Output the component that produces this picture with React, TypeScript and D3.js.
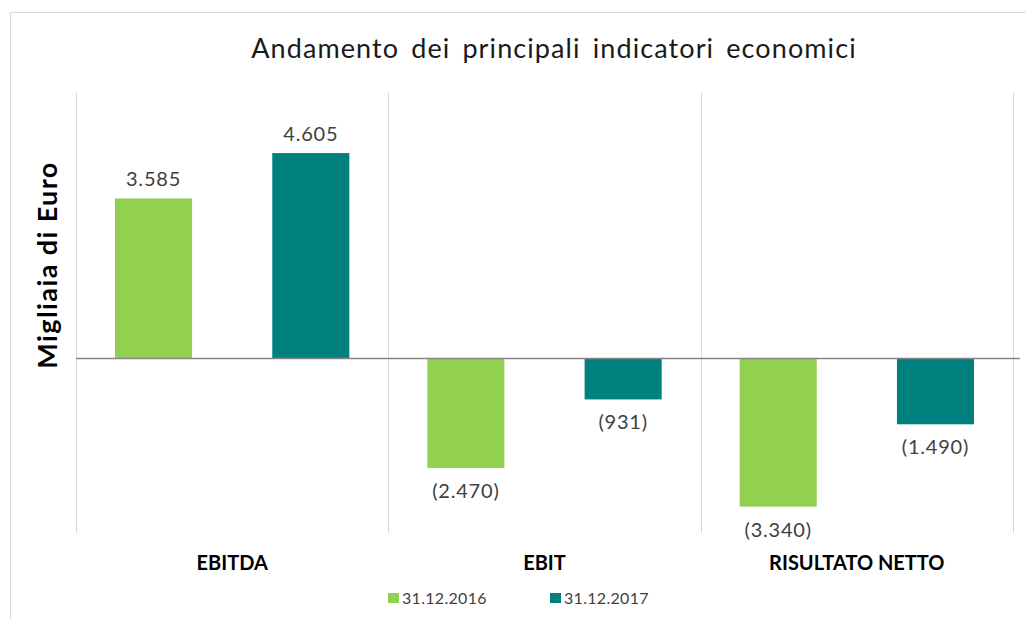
import React, { useEffect, useRef } from "react";
import * as d3 from "d3";

const categories = ["EBITDA", "EBIT", "RISULTATO NETTO"];
const seriesNames = ["31.12.2016", "31.12.2017"];
const values2016 = [3585, -2470, -3340];
const values2017 = [4605, -931, -1490];
const seriesColors = ["#92D050", "#00807F"];
const yDomain = [-4000, 6000];

const W = 1026;
const H = 619;
const FONT = "Lato, 'Open Sans', sans-serif";

function fmt(v: number): string {
  const s = d3.format(",")(Math.abs(v)).replace(/,/g, ".");
  return v < 0 ? `(${s})` : s;
}

export default function App() {
  const ref = useRef<SVGSVGElement>(null);

  useEffect(() => {
    const svg = d3.select(ref.current);
    svg.selectAll("*").remove();

    const left = 76, right = 1013;
    const x0 = d3.scaleBand<string>().domain(categories).range([left, right]).padding(0);
    const x1 = d3
      .scaleBand<string>()
      .domain(seriesNames)
      .range([0, x0.bandwidth()])
      .paddingInner(0.51)
      .paddingOuter(0.248);
    const y = d3.scaleLinear().domain(yDomain).range([536, 91]);

    // frame
    svg.append("rect")
      .attr("x", 10.5).attr("y", 12.5).attr("width", 1040).attr("height", 640)
      .attr("fill", "#fff").attr("stroke", "#d9d9d9").attr("stroke-width", 1);

    // title
    svg.append("text")
      .attr("x", 554).attr("y", 58)
      .attr("text-anchor", "middle")
      .attr("font-family", FONT).attr("font-size", 27)
      .attr("letter-spacing", 1.1).attr("word-spacing", 4)
      .attr("fill", "#1a1a1a")
      .text("Andamento dei principali indicatori economici");

    // y axis title
    svg.append("text")
      .attr("transform", `translate(57,${265}) rotate(-90)`)
      .attr("text-anchor", "middle")
      .attr("font-family", FONT).attr("font-size", 27).attr("font-weight", "bold")
      .attr("letter-spacing", 1.4)
      .attr("fill", "#000")
      .text("Migliaia di Euro");

    // separators
    const seps = [left, ...categories.map((c) => (x0(c) as number) + x0.bandwidth())];
    svg.selectAll("line.sep").data(seps).enter().append("line")
      .attr("class", "sep")
      .attr("x1", (d) => Math.round(d) + 0.5).attr("x2", (d) => Math.round(d) + 0.5)
      .attr("y1", 92).attr("y2", 533)
      .attr("stroke", "#d9d9d9").attr("stroke-width", 1);

    const data = categories.map((c, i) => ({
      cat: c,
      vals: [
        { s: seriesNames[0], v: values2016[i], color: seriesColors[0] },
        { s: seriesNames[1], v: values2017[i], color: seriesColors[1] },
      ],
    }));

    const groups = svg.selectAll("g.cat").data(data).enter().append("g")
      .attr("class", "cat")
      .attr("transform", (d) => `translate(${x0(d.cat)},0)`);

    groups.selectAll("rect").data((d) => d.vals).enter().append("rect")
      .attr("x", (d) => x1(d.s) as number)
      .attr("width", x1.bandwidth())
      .attr("y", (d) => y(Math.max(0, d.v)))
      .attr("height", (d) => Math.abs(y(d.v) - y(0)))
      .attr("fill", (d) => d.color);

    groups.selectAll("text.lbl").data((d) => d.vals).enter().append("text")
      .attr("class", "lbl")
      .attr("x", (d) => (x1(d.s) as number) + x1.bandwidth() / 2)
      .attr("y", (d) => (d.v >= 0 ? y(d.v) - 12 : y(d.v) + 30))
      .attr("text-anchor", "middle")
      .attr("font-family", FONT).attr("font-size", 20)
      .attr("letter-spacing", 0.8)
      .attr("fill", "#404040")
      .text((d) => fmt(d.v));

    // zero line
    svg.append("line")
      .attr("x1", left).attr("x2", right + 7)
      .attr("y1", Math.round(y(0)) + 0.5).attr("y2", Math.round(y(0)) + 0.5)
      .attr("stroke", "#868686").attr("stroke-width", 1.3);

    // category labels
    svg.selectAll("text.cat").data(categories).enter().append("text")
      .attr("class", "cat")
      .attr("x", (d) => (x0(d) as number) + x0.bandwidth() / 2)
      .attr("y", 570)
      .attr("text-anchor", "middle")
      .attr("font-family", FONT).attr("font-size", 20).attr("font-weight", "bold")
      .attr("fill", "#000")
      .text((d) => d);

    // legend
    const legX = [388, 550];
    const leg = svg.selectAll("g.leg").data(seriesNames).enter().append("g")
      .attr("class", "leg")
      .attr("transform", (_d, i) => `translate(${legX[i]},593)`);
    leg.append("rect").attr("width", 11).attr("height", 10)
      .attr("fill", (_d, i) => seriesColors[i]);
    leg.append("text").attr("x", 14).attr("y", 10.5)
      .attr("font-family", FONT).attr("font-size", 16)
      .attr("letter-spacing", 0.3)
      .attr("fill", "#404040")
      .text((d) => d);
  }, []);

  return (
    <svg
      ref={ref}
      width={W}
      height={H}
      style={{ position: "absolute", left: 0, top: 0, background: "#fff" }}
    />
  );
}
